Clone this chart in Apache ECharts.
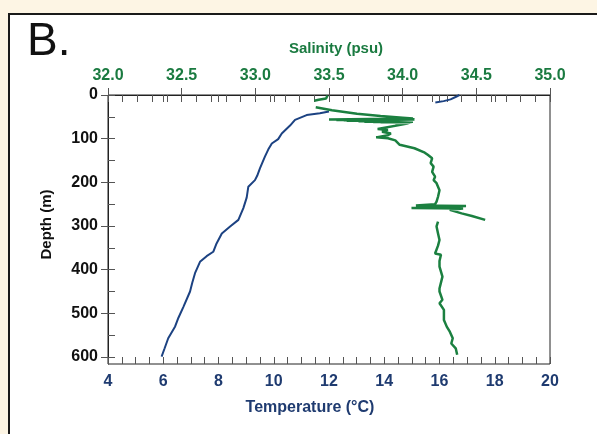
<!DOCTYPE html>
<html><head><meta charset="utf-8">
<script src="https://cdn.jsdelivr.net/npm/echarts@6/dist/echarts.min.js"></script>
<style>
html,body{margin:0;padding:0;background:#fdf5e4;overflow:hidden;}
#panel{position:absolute;left:8px;top:13px;width:620px;height:450px;background:#fff;border:2px solid #1a1a1a;box-sizing:border-box;}
#c{position:absolute;left:0;top:0;width:597px;height:434px;}
</style>
</head><body><div id="panel"></div><div id="c"></div><script>
// Tick labels
const depthTicks = [0, 100, 200, 300, 400, 500, 600];
const tempTicks = [4, 6, 8, 10, 12, 14, 16, 18, 20];
const salTicks = [32.0, 32.5, 33.0, 33.5, 34.0, 34.5, 35.0];

// Temperature profile [°C, depth m]
const tempSurface = [[16.72,0],[16.60,4],[16.40,10],[16.15,14],[15.85,17]];
const tempMain = [[12.0,38],[11.67,42],[11.19,46],[10.77,57],[10.59,70],[10.29,88],[10.16,101],[9.93,111],[9.80,125],[9.68,141],[9.50,168],[9.40,185],[9.32,195],[9.08,210],[9.02,235],[8.90,259],[8.72,286],[8.42,301],[8.12,317],[7.93,340],[7.81,359],[7.57,369],[7.33,382],[7.15,408],[7.05,430],[6.97,450],[6.73,485],[6.55,510],[6.43,530],[6.18,557],[6.05,580],[5.94,599]];

// Salinity profile [psu, depth m]
const salSurface = [[33.49,1],[33.50,4],[33.48,8],[33.43,11],[33.40,13]];
const salUpper = [[33.41,28],[33.52,35],[33.69,43],[33.85,48],[34.00,52],[34.07,54],[33.50,56],[34.06,54.5],[33.55,57],[34.08,55.5],[33.60,58],[34.08,56.5],[33.62,59],[34.07,58],[33.70,60],[34.06,59.5],[33.74,61],[34.07,61],[33.80,62],[34.06,62.5],[33.85,63],[34.05,63.5],[33.95,64.5],[34.04,65],[33.83,78],[33.90,80],[33.86,84],[33.92,88],[33.90,92],[33.82,97],[33.90,99],[33.95,104],[33.98,114],[34.08,122],[34.15,132],[34.17,137],[34.20,145],[34.19,156],[34.21,164],[34.20,176],[34.22,187],[34.21,195],[34.23,202],[34.25,218],[34.24,233],[34.23,244],[34.22,250],[34.09,253],[34.43,254],[34.06,259],[34.41,260],[34.32,263],[34.40,271],[34.47,277],[34.56,286]];
const salDeep = [[34.24,290],[34.23,301],[34.24,317],[34.25,332],[34.24,345],[34.22,363],[34.26,366],[34.25,380],[34.25,393],[34.27,416],[34.25,443],[34.25,450],[34.27,469],[34.25,477],[34.28,492],[34.28,515],[34.30,531],[34.32,542],[34.34,557],[34.33,569],[34.36,580],[34.37,595]];

function minorVals(ticks, n) {
  const s = new Set();
  for (let i = 0; i < ticks.length - 1; i++) {
    const step = (ticks[i+1] - ticks[i]) / n;
    for (let k = 0; k <= n; k++) s.add(+(ticks[i] + k * step).toFixed(4));
  }
  return Array.from(s);
}

const font = '"Liberation Sans", Arial, sans-serif';
const navy = '#1f3b70';
const green = '#1a7a40';
const tickColor = '#555';

const chart = echarts.init(document.getElementById('c'), null, {renderer: 'canvas'});
chart.setOption({
  animation: false,
  backgroundColor: 'transparent',
  textStyle: {fontFamily: font},
  graphic: [{type: 'text', left: 27, top: 19, style: {text: 'B.', fontSize: 46, fontFamily: font, fill: '#111'}}],
  grid: {left: 108, right: 47, top: 95, bottom: 70, show: true, borderColor: '#222', borderWidth: 1, backgroundColor: '#fff'},
  xAxis: [
    {type: 'value', position: 'bottom', min: 4, max: 20,
     axisLine: {lineStyle: {color: '#222', width: 1}},
     axisTick: {inside: false, length: 7, customValues: tempTicks, lineStyle: {color: tickColor}},
     axisLabel: {customValues: tempTicks, color: navy, fontWeight: 'bold', fontSize: 16, margin: 10, fontFamily: font},
     splitLine: {show: false},
     name: 'Temperature (°C)', nameLocation: 'middle', nameGap: 36,
     nameTextStyle: {color: navy, fontWeight: 'bold', fontSize: 16, fontFamily: font, padding: [0, 38, 0, 0]}},
    {type: 'value', position: 'top', min: 32, max: 35,
     axisLine: {lineStyle: {color: '#222', width: 1}},
     axisTick: {inside: false, length: 7, customValues: salTicks, lineStyle: {color: tickColor}},
     axisLabel: {customValues: salTicks, color: green, fontWeight: 'bold', fontSize: 16, margin: 11, fontFamily: font,
                 formatter: v => Number(v).toFixed(1)},
     splitLine: {show: false},
     name: 'Salinity (psu)', nameLocation: 'middle', nameGap: 39,
     nameTextStyle: {color: green, fontWeight: 'bold', fontSize: 15, fontFamily: font, padding: [0, 0, 0, 14]}},
    {type: 'value', position: 'bottom', min: 4, max: 20,
     axisLine: {show: false},
     axisTick: {inside: true, length: 7, customValues: minorVals(tempTicks, 4), lineStyle: {color: tickColor}},
     axisLabel: {show: false}, splitLine: {show: false}},
    {type: 'value', position: 'top', min: 32, max: 35,
     axisLine: {show: false},
     axisTick: {inside: true, length: 7, customValues: minorVals(salTicks, 5), lineStyle: {color: tickColor}},
     axisLabel: {show: false}, splitLine: {show: false}}
  ],
  yAxis: [
    {type: 'value', position: 'left', inverse: true, min: 0, max: 616,
     axisLine: {show: true, lineStyle: {color: '#222', width: 1}},
     axisTick: {show: true, inside: false, length: 7, customValues: depthTicks, lineStyle: {color: tickColor}},
     axisLabel: {customValues: depthTicks, color: '#111', fontWeight: 'bold', fontSize: 16, margin: 10, fontFamily: font},
     splitLine: {show: false},
     name: 'Depth (m)', nameLocation: 'middle', nameGap: 54, nameRotate: 90,
     nameTextStyle: {color: '#111', fontWeight: 'bold', fontSize: 15, fontFamily: font, padding: [0, 0, 0, 10]}},
    {type: 'value', position: 'left', inverse: true, min: 0, max: 616,
     axisLine: {show: false},
     axisTick: {show: true, inside: true, length: 7, customValues: minorVals(depthTicks, 2), lineStyle: {color: tickColor}},
     axisLabel: {show: false}, splitLine: {show: false}}
  ],
  series: [
    {type: 'line', xAxisIndex: 0, yAxisIndex: 0, data: tempSurface, showSymbol: false, lineStyle: {color: '#1c4282', width: 2}},
    {type: 'line', xAxisIndex: 0, yAxisIndex: 0, data: tempMain, showSymbol: false, lineStyle: {color: '#1c4282', width: 2}},
    {type: 'line', xAxisIndex: 1, yAxisIndex: 0, data: salSurface, showSymbol: false, lineStyle: {color: '#1b8040', width: 2.5}},
    {type: 'line', xAxisIndex: 1, yAxisIndex: 0, data: salUpper, showSymbol: false, lineStyle: {color: '#1b8040', width: 2.5}},
    {type: 'line', xAxisIndex: 1, yAxisIndex: 0, data: salDeep, showSymbol: false, lineStyle: {color: '#1b8040', width: 2.5}}
  ]
});
</script></body></html>
